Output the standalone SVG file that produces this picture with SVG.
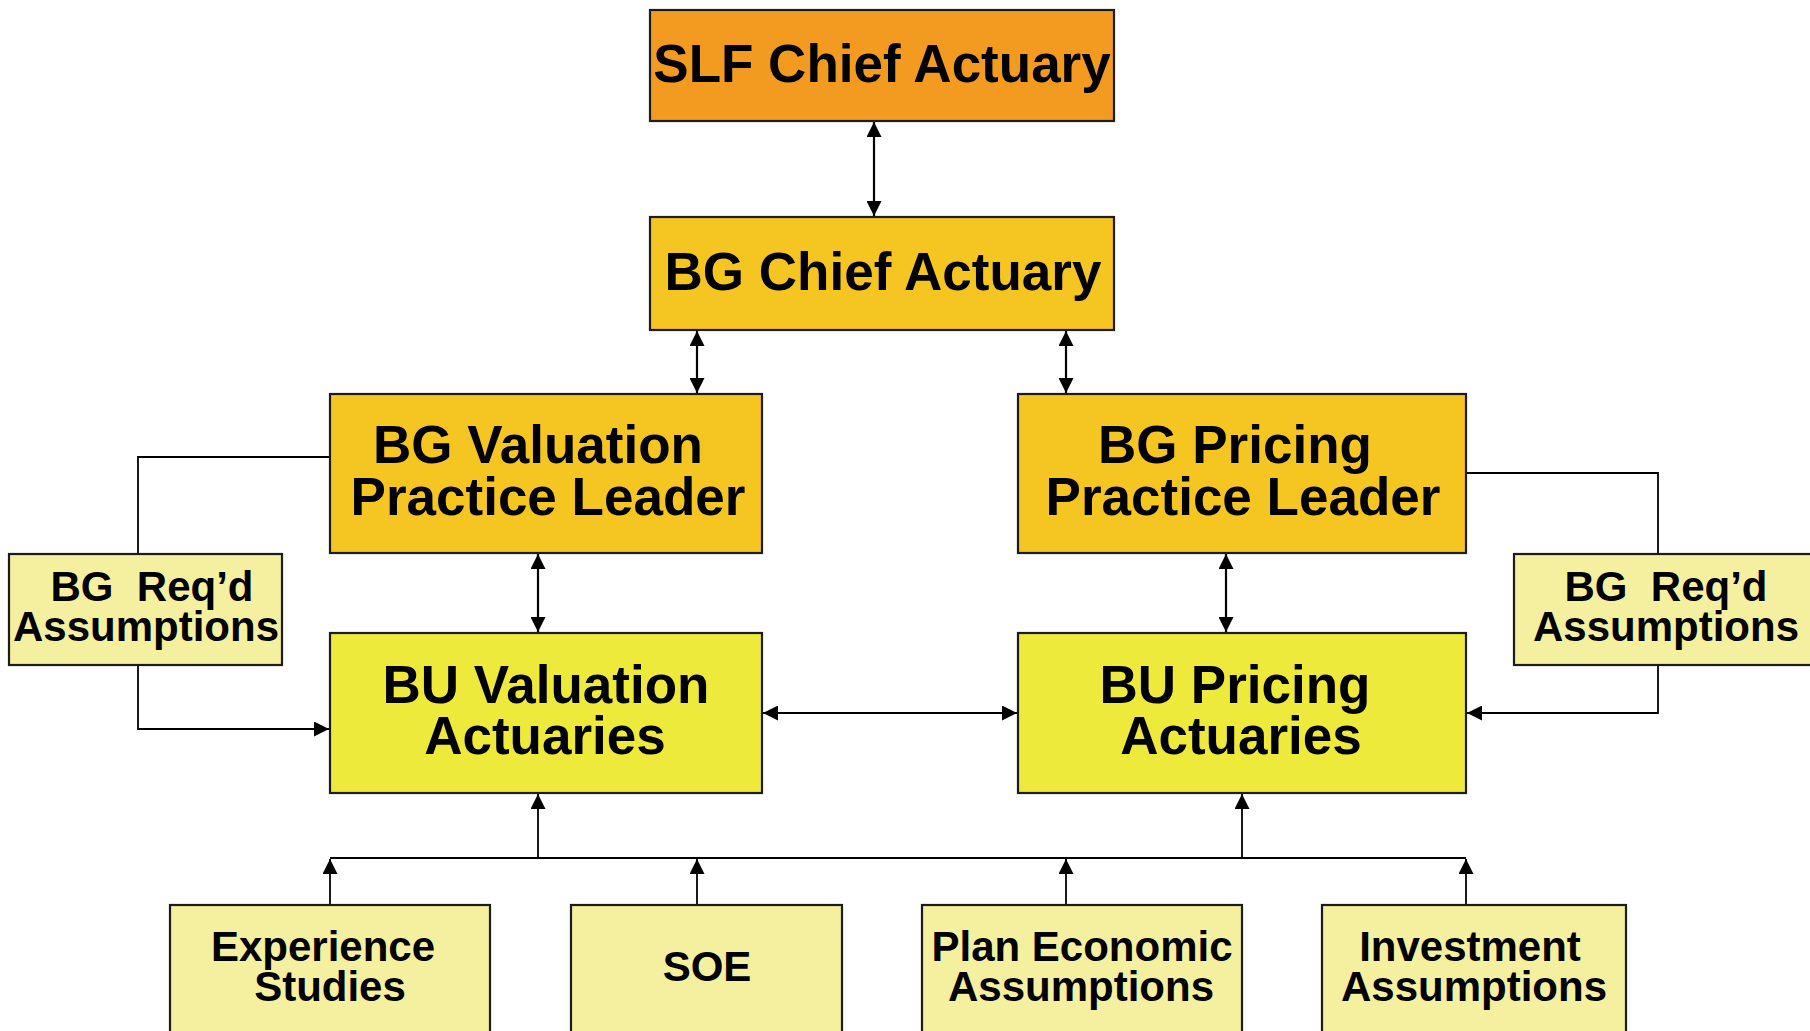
<svg xmlns="http://www.w3.org/2000/svg" width="1810" height="1031" viewBox="0 0 1810 1031">
<style>
.box{stroke:#1c1c1c;stroke-width:2.2}
.orange{fill:#F39A21}
.gold{fill:#F5C622}
.yellow{fill:#EEEA3C}
.pale{fill:#F4F0A0}
.t{font-family:"Liberation Sans",Arial,sans-serif;font-weight:bold;fill:#000;text-anchor:middle}
.big{font-size:53px}
.small{font-size:42px}
.c{fill:none;stroke:#000;stroke-width:2.2}
.cs{fill:none;stroke:#000;stroke-width:1.8}
</style>
<defs>
<marker id="ah" viewBox="0 0 15 15" refX="15" refY="7.5" markerWidth="15" markerHeight="15" markerUnits="userSpaceOnUse" orient="auto-start-reverse">
<path d="M0,0 L15,7.5 L0,15 z" fill="#000"/>
</marker>
</defs>
<rect width="1810" height="1031" fill="#fff"/>
<g id="connectors">
<path class="c" d="M874,122 V216" marker-start="url(#ah)" marker-end="url(#ah)"/>
<path class="c" d="M697,331 V393" marker-start="url(#ah)" marker-end="url(#ah)"/>
<path class="c" d="M1066,331 V393" marker-start="url(#ah)" marker-end="url(#ah)"/>
<path class="c" d="M538,554 V632" marker-start="url(#ah)" marker-end="url(#ah)"/>
<path class="c" d="M1226,554 V632" marker-start="url(#ah)" marker-end="url(#ah)"/>
<path class="c" d="M763,713 H1017" marker-start="url(#ah)" marker-end="url(#ah)"/>
<path class="cs" d="M330,457 H138 V554"/>
<path class="cs" d="M138,665 V729 H329" marker-end="url(#ah)"/>
<path class="cs" d="M1466,473 H1658 V554"/>
<path class="cs" d="M1658,665 V713 H1467" marker-end="url(#ah)"/>
<path class="c" d="M330,858 H1466"/>
<path class="cs" d="M538,858 V794" marker-end="url(#ah)"/>
<path class="cs" d="M1242,858 V794" marker-end="url(#ah)"/>
<path class="cs" d="M330,905 V859" marker-end="url(#ah)"/>
<path class="cs" d="M697,905 V859" marker-end="url(#ah)"/>
<path class="cs" d="M1066,905 V859" marker-end="url(#ah)"/>
<path class="cs" d="M1466,905 V859" marker-end="url(#ah)"/>
</g>
<g id="slf-chief">
<rect class="box orange" x="650" y="10" width="464" height="111"/>
<text class="t big" x="882" y="82">SLF Chief Actuary</text>
</g>
<g id="bg-chief">
<rect class="box gold" x="650" y="217" width="464" height="113"/>
<text class="t big" x="883" y="290">BG Chief Actuary</text>
</g>
<g id="bg-valuation">
<rect class="box gold" x="330" y="394" width="432" height="159"/>
<text class="t big" x="538" y="463">BG Valuation</text>
<text class="t big" x="548" y="515">Practice Leader</text>
</g>
<g id="bg-pricing">
<rect class="box gold" x="1018" y="394" width="448" height="159"/>
<text class="t big" x="1235" y="463">BG Pricing</text>
<text class="t big" x="1243" y="515">Practice Leader</text>
</g>
<g id="req-left">
<rect class="box pale" x="9" y="554" width="273" height="111"/>
<text class="t small" x="152" y="601" xml:space="preserve">BG  Req’d</text>
<text class="t small" x="146" y="641">Assumptions</text>
</g>
<g id="req-right">
<rect class="box pale" x="1514" y="554" width="304" height="111"/>
<text class="t small" x="1666" y="601" xml:space="preserve">BG  Req’d</text>
<text class="t small" x="1666" y="641">Assumptions</text>
</g>
<g id="bu-valuation">
<rect class="box yellow" x="330" y="633" width="432" height="160"/>
<text class="t big" x="546" y="703">BU Valuation</text>
<text class="t big" x="545" y="754">Actuaries</text>
</g>
<g id="bu-pricing">
<rect class="box yellow" x="1018" y="633" width="448" height="160"/>
<text class="t big" x="1235" y="703">BU Pricing</text>
<text class="t big" x="1241" y="754">Actuaries</text>
</g>
<g id="experience">
<rect class="box pale" x="170" y="905" width="320" height="140"/>
<text class="t small" x="323" y="961">Experience</text>
<text class="t small" x="330" y="1001">Studies</text>
</g>
<g id="soe">
<rect class="box pale" x="571" y="905" width="271" height="140"/>
<text class="t small" x="707" y="981">SOE</text>
</g>
<g id="plan-economic">
<rect class="box pale" x="922" y="905" width="320" height="140"/>
<text class="t small" x="1082" y="961">Plan Economic</text>
<text class="t small" x="1081" y="1001">Assumptions</text>
</g>
<g id="investment">
<rect class="box pale" x="1322" y="905" width="304" height="140"/>
<text class="t small" x="1470" y="961">Investment</text>
<text class="t small" x="1474" y="1001">Assumptions</text>
</g>
</svg>
